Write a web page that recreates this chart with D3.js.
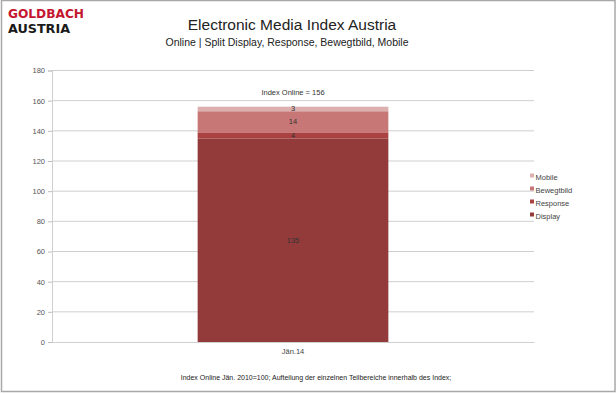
<!DOCTYPE html>
<html>
<head>
<meta charset="utf-8">
<script src="https://cdn.jsdelivr.net/npm/d3@7"></script>
<style>
  body { margin: 0; background: #fff; }
  svg { font-family: "Liberation Sans", Arial, sans-serif; display: block; }
</style>
</head>
<body>
<div id="chart"></div>
<script>
const width = 616;
const height = 394;

// data
const categories = ["Jän.14"];
const seriesNames = ["Display", "Response", "Bewegtbild", "Mobile"];
const display = [135];
const response = [4];
const bewegtbild = [14];
const mobile = [3];
const yTicks = [0, 20, 40, 60, 80, 100, 120, 140, 160, 180];
const colors = ["#933b3b", "#ab4242", "#c87777", "#ddb0b0"];

const margin = {top: 70.5, right: 82, bottom: 52, left: 52};

const svg = d3.select("#chart")
    .append("svg")
    .attr("width", width)
    .attr("height", height);

// frame
svg.append("rect")
    .attr("x", 1.5).attr("y", 0.5)
    .attr("width", width - 2.5).attr("height", height - 3)
    .attr("fill", "none")
    .attr("stroke", "#a8a8a8")
    .attr("stroke-width", 1.5);

// logo
svg.append("text")
    .attr("x", 8).attr("y", 18)
    .attr("font-family", "'DejaVu Sans Condensed', 'Liberation Sans Narrow', sans-serif")
    .attr("font-weight", "bold")
    .attr("font-size", 13)
    .attr("fill", "#c4162f")
    .attr("textLength", 76)
    .attr("lengthAdjust", "spacingAndGlyphs")
    .text("GOLDBACH");
svg.append("text")
    .attr("x", 8).attr("y", 33)
    .attr("font-family", "'DejaVu Sans Condensed', 'Liberation Sans Narrow', sans-serif")
    .attr("font-weight", "bold")
    .attr("font-size", 13)
    .attr("fill", "#1a1a1a")
    .attr("textLength", 62)
    .attr("lengthAdjust", "spacingAndGlyphs")
    .text("AUSTRIA");

// titles
svg.append("text")
    .attr("x", 292).attr("y", 30)
    .attr("text-anchor", "middle")
    .attr("font-size", 15.5)
    .attr("fill", "#222")
    .text("Electronic Media Index Austria");
svg.append("text")
    .attr("x", 287).attr("y", 46)
    .attr("text-anchor", "middle")
    .attr("font-size", 10.5)
    .attr("fill", "#222")
    .text("Online | Split Display, Response, Bewegtbild, Mobile");

const plotW = width - margin.left - margin.right;
const plotH = height - margin.top - margin.bottom;

const g = svg.append("g")
    .attr("transform", `translate(${margin.left},${margin.top})`);

const x = d3.scaleBand()
    .domain(categories)
    .range([0, plotW])
    .padding(0.433);

const y = d3.scaleLinear()
    .domain([0, 180])
    .range([plotH, 0]);

// gridlines
g.selectAll(".grid")
    .data(yTicks.filter(d => d > 0))
    .enter()
    .append("line")
    .attr("x1", 0).attr("x2", plotW)
    .attr("y1", d => y(d)).attr("y2", d => y(d))
    .attr("stroke", "#cfcfcf");

// y axis
const yAxis = g.append("g")
    .call(d3.axisLeft(y).tickValues(yTicks).tickSize(4).tickPadding(3));
yAxis.select(".domain").attr("stroke", "#cfcfcf");
yAxis.selectAll(".tick line").attr("stroke", "#bdbdbd");
yAxis.selectAll(".tick text")
    .attr("font-size", 7.5)
    .attr("fill", "#555")
    .attr("font-family", "'Liberation Sans', Arial, sans-serif");

// x axis
const xAxis = g.append("g")
    .attr("transform", `translate(0,${plotH})`)
    .call(d3.axisBottom(x).tickSize(0).tickPadding(7));
xAxis.select(".domain").attr("stroke", "#cfcfcf");
xAxis.selectAll(".tick text")
    .attr("font-size", 7.5)
    .attr("fill", "#444")
    .attr("font-family", "'Liberation Sans', Arial, sans-serif");

// stacked bars
const table = categories.map((c, i) => ({
    cat: c,
    Display: display[i],
    Response: response[i],
    Bewegtbild: bewegtbild[i],
    Mobile: mobile[i]
}));
const stack = d3.stack().keys(seriesNames)(table);

const layers = g.selectAll(".layer")
    .data(stack)
    .enter()
    .append("g")
    .attr("fill", (d, i) => colors[i]);

layers.selectAll("rect")
    .data(d => d)
    .enter()
    .append("rect")
    .attr("x", d => x(d.data.cat))
    .attr("width", x.bandwidth())
    .attr("y", d => y(d[1]))
    .attr("height", d => y(d[0]) - y(d[1]));

layers.selectAll("text")
    .data(d => d)
    .enter()
    .append("text")
    .attr("x", d => x(d.data.cat) + x.bandwidth() / 2)
    .attr("y", d => (y(d[0]) + y(d[1])) / 2 + 2.5)
    .attr("text-anchor", "middle")
    .attr("font-size", 7.5)
    .attr("fill", "#333")
    .text(d => d[1] - d[0]);

// total label
table.forEach(d => {
    const total = d.Display + d.Response + d.Bewegtbild + d.Mobile;
    g.append("text")
        .attr("x", x(d.cat) + x.bandwidth() / 2)
        .attr("y", y(total) - 12)
        .attr("text-anchor", "middle")
        .attr("font-size", 7.5)
        .attr("fill", "#333")
        .text(`Index Online  = ${total}`);
});

// legend
const legendItems = seriesNames.slice().reverse();
const legend = svg.append("g")
    .attr("transform", "translate(530,177)");
legendItems.forEach((name, i) => {
    const row = legend.append("g")
        .attr("transform", `translate(0,${i * 13})`);
    row.append("rect")
        .attr("x", 0).attr("y", -3.5)
        .attr("width", 4).attr("height", 4)
        .attr("fill", colors[seriesNames.indexOf(name)]);
    row.append("text")
        .attr("x", 5.5).attr("y", 2.5)
        .attr("font-size", 7.5)
        .attr("fill", "#444")
        .text(name);
});

// footnote
svg.append("text")
    .attr("x", 316).attr("y", 380)
    .attr("text-anchor", "middle")
    .attr("font-size", 7)
    .attr("fill", "#222")
    .text("Index Online Jän. 2010=100; Aufteilung der einzelnen Teilbereiche innerhalb des Index;");
</script>
</body>
</html>
